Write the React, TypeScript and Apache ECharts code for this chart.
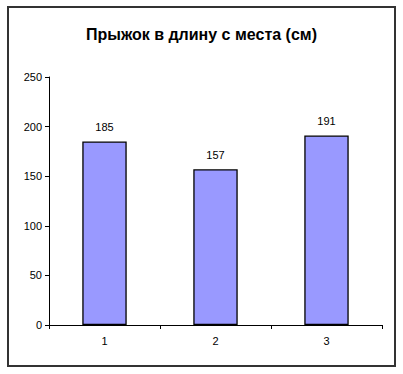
import React, { useEffect, useRef } from "react";
import * as echarts from "echarts";

const categories = ["1", "2", "3"];
const values = [185, 157, 191];
const titleText = "Прыжок в длину с места (см)";

export default function App() {
  const ref = useRef<HTMLDivElement>(null);
  useEffect(() => {
    if (!ref.current) return;
    const chart = echarts.init(ref.current, undefined, { renderer: "svg" });
    chart.setOption({
      animation: false,
      backgroundColor: "#ffffff",
      title: {
        text: titleText,
        left: "center",
        top: 21,
        textStyle: { fontFamily: "Liberation Sans, Arial", fontWeight: "bold", fontSize: 16, color: "#000" },
      },
      graphic: [
        {
          type: "rect",
          shape: { x: 8, y: 7, width: 387, height: 359 },
          style: { fill: "none", stroke: "#333333", lineWidth: 2 },
          z: 100,
        },
      ],
      grid: { left: 49, top: 77, right: 21, bottom: 49 },
      xAxis: {
        type: "category",
        data: categories,
        boundaryGap: true,
        axisLine: { lineStyle: { color: "#000", width: 1 } },
        axisTick: { show: true, alignWithLabel: false, length: 4, lineStyle: { color: "#000" } },
        axisLabel: { color: "#000", fontSize: 11, fontFamily: "Liberation Sans, Arial", margin: 10 },
        splitLine: { show: false },
      },
      yAxis: {
        type: "value",
        min: 0,
        max: 250,
        interval: 50,
        axisLine: { show: true, lineStyle: { color: "#000", width: 1 } },
        axisTick: { show: true, length: 4, lineStyle: { color: "#000" } },
        axisLabel: { color: "#000", fontSize: 11, fontFamily: "Liberation Sans, Arial", margin: 7 },
        splitLine: { show: false },
      },
      series: [
        {
          type: "bar",
          data: values,
          barWidth: "40%",
          itemStyle: { color: "#9999FF", borderColor: "#000", borderWidth: 1.3 },
          label: {
            show: true,
            position: "top",
            distance: 9,
            color: "#000",
            fontSize: 11,
            fontFamily: "Liberation Sans, Arial",
          },
        },
      ],
    });
    return () => chart.dispose();
  }, []);
  return <div ref={ref} style={{ position: "fixed", left: 0, top: 0, width: 403, height: 374 }} />;
}
